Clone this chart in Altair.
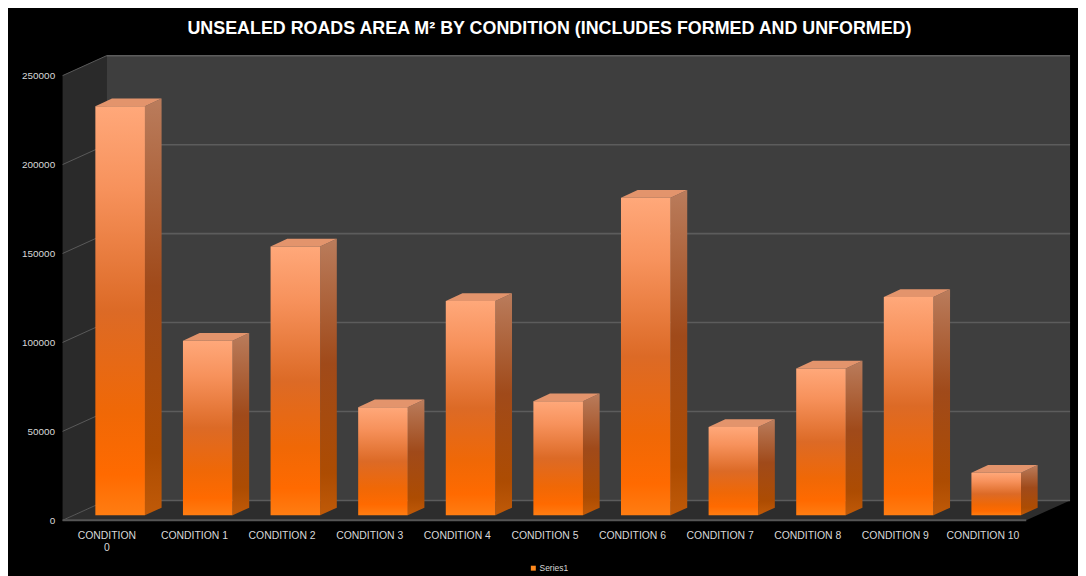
import json
import altair as alt
import pandas as pd

# ---------------- data ----------------
categories = ["CONDITION 0", "CONDITION 1", "CONDITION 2", "CONDITION 3", "CONDITION 4",
              "CONDITION 5", "CONDITION 6", "CONDITION 7", "CONDITION 8", "CONDITION 9",
              "CONDITION 10"]
areas = [230000, 98200, 151200, 60800, 120500, 64200, 178600, 49700, 82600, 122800, 24000]
y_ticks = [0, 50000, 100000, 150000, 200000, 250000]
series_name = "Series1"
title_text = "UNSEALED ROADS AREA M² BY CONDITION (INCLUDES FORMED AND UNFORMED)"

# ---------------- 3D box geometry (scale units) ----------------
n = len(categories)
YMAX = max(y_ticks)
DEPTH_X = 0.5        # wall depth along x
DEPTH_Y = 11160      # wall depth along y
BAR_OFFSET = 0.374   # front face left edge inside category slot
BAR_W = 0.566
BAR_DX = 0.19
BAR_DY = 4300
BAR_BASE = 2790

x_scale = alt.Scale(domain=[0, n + DEPTH_X], nice=False, zero=False)
y_scale = alt.Scale(domain=[-558, 261720], nice=False, zero=False)

FONT = "Liberation Sans"

# tick labels: first one wrapped onto two lines as in the reference
label_list = [c.split(" ") if i == 0 else c for i, c in enumerate(categories)]
label_expr = f"{json.dumps(label_list)}[round(datum.value - 0.5)]"

x_axis = alt.Axis(
    values=[i + 0.5 for i in range(n)], labelExpr=label_expr, title=None,
    grid=False, domain=False, ticks=False, labelPadding=9,
    labelFlush=False, labelOverlap=False, labelFont=FONT, labelFontSize=10.5,
    labelColor="#d9d9d9", labelLineHeight=12)
y_axis = alt.Axis(
    values=y_ticks, title=None, grid=False, domain=False, ticks=False,
    labelPadding=8, labelFont=FONT, labelFontSize=10, labelColor="#d9d9d9",
    format="d")

# bars
bars = pd.DataFrame({"cat": categories, "value": areas, "idx": list(range(n))})
bars["xl"] = bars["idx"] + BAR_OFFSET
bars["xr"] = bars["xl"] + BAR_W
bars["yb"] = BAR_BASE
bars["yt"] = BAR_BASE + bars["value"]
bars["series"] = series_name

side_rows, top_rows = [], []
for _, r in bars.iterrows():
    side_rows.append({"k": r.idx, "x": r.xr, "lo": r.yb, "hi": r.yt})
    side_rows.append({"k": r.idx, "x": r.xr + BAR_DX, "lo": r.yb + BAR_DY, "hi": r.yt + BAR_DY})
    t = r.yt
    top_rows.append({"k": r.idx, "x": r.xl, "lo": t, "hi": t})
    top_rows.append({"k": r.idx, "x": r.xl + BAR_DX, "lo": t, "hi": t + BAR_DY})
    top_rows.append({"k": r.idx, "x": r.xr, "lo": t, "hi": t + BAR_DY})
    top_rows.append({"k": r.idx, "x": r.xr + BAR_DX, "lo": t + BAR_DY, "hi": t + BAR_DY})
side_df = pd.DataFrame(side_rows)
top_df = pd.DataFrame(top_rows)

# walls
floor_df = pd.DataFrame({"x": [0, DEPTH_X, n, n + DEPTH_X],
                         "lo": [0, 0, 0, DEPTH_Y], "hi": [0, DEPTH_Y, DEPTH_Y, DEPTH_Y]})
left_df = pd.DataFrame({"x": [0, DEPTH_X], "lo": [0, DEPTH_Y], "hi": [YMAX, YMAX + DEPTH_Y]})
back_df = pd.DataFrame({"x": [DEPTH_X, n + DEPTH_X], "lo": [DEPTH_Y, DEPTH_Y],
                        "hi": [YMAX + DEPTH_Y, YMAX + DEPTH_Y]})
back_grid = pd.DataFrame({"x": [DEPTH_X] * len(y_ticks), "x2": [n + DEPTH_X] * len(y_ticks),
                          "y": [t + DEPTH_Y for t in y_ticks]})
left_grid = pd.DataFrame({"x": [0] * len(y_ticks), "x2": [DEPTH_X] * len(y_ticks),
                          "y": y_ticks, "y2": [t + DEPTH_Y for t in y_ticks]})
front_edge = pd.DataFrame({"x": [0], "x2": [n], "y": [0]})


def X(field):
    return alt.X(field, scale=x_scale, axis=x_axis)


def Y(field, **kw):
    return alt.Y(field, scale=y_scale, axis=y_axis, **kw)


def poly(df, color, detail=False):
    enc = dict(x=X("x:Q"), y=Y("lo:Q", stack=None), y2="hi:Q")
    if detail:
        enc["detail"] = "k:N"
    return alt.Chart(df).mark_area(orient="vertical", fill=color, interpolate="linear").encode(**enc)


floor = poly(floor_df, "#2d2d2d")
left_wall = poly(left_df, "#2a2a2a")
back_wall = poly(back_df, "#3e3e3e")

back_grid_l = alt.Chart(back_grid).mark_rule(color="#5c5c5c", strokeWidth=1.6).encode(
    x=X("x:Q"), x2="x2:Q", y=Y("y:Q"))
left_grid_l = alt.Chart(left_grid).mark_rule(color="#5a5a5a", strokeWidth=1).encode(
    x=X("x:Q"), x2="x2:Q", y=Y("y:Q"), y2="y2:Q")
front_edge_l = alt.Chart(front_edge).mark_rule(color="#555555", strokeWidth=2).encode(
    x=X("x:Q"), x2="x2:Q", y=Y("y:Q"))

side_grad = alt.Gradient(gradient="linear", x1=0, y1=0, x2=0, y2=1, stops=[
    alt.GradientStop(offset=0, color="#ba7c5c"),
    alt.GradientStop(offset=0.45, color="#a04a1a"),
    alt.GradientStop(offset=0.85, color="#ad4c02"),
    alt.GradientStop(offset=1, color="#c05a08"),
])
front_grad = alt.Gradient(gradient="linear", x1=0, y1=0, x2=0, y2=1, stops=[
    alt.GradientStop(offset=0, color="#ffa87a"),
    alt.GradientStop(offset=0.2, color="#f7925c"),
    alt.GradientStop(offset=0.5, color="#dc6a26"),
    alt.GradientStop(offset=0.75, color="#f06806"),
    alt.GradientStop(offset=0.9, color="#ff6a00"),
    alt.GradientStop(offset=1, color="#ff7d12"),
])

side_l = poly(side_df, side_grad, detail=True)
top_l = poly(top_df, "#e3946c", detail=True)

front_l = alt.Chart(bars).mark_rect(fill=front_grad).encode(
    x=X("xl:Q"), x2="xr:Q", y=Y("yb:Q"), y2="yt:Q")

legend_l = alt.Chart(bars).mark_square(opacity=0).encode(
    x=X("xl:Q"), y=Y("yb:Q"),
    color=alt.Color("series:N", scale=alt.Scale(range=["#ff8a1e"]), legend=alt.Legend(
        title=None, orient="none", legendX=470, legendY=513, symbolType="square",
        symbolSize=25, symbolOpacity=1, symbolStrokeWidth=0, labelFontSize=8.5,
        labelFont=FONT, labelColor="#d9d9d9", labelOffset=2, padding=0)),
)

chart = alt.layer(
    floor, left_wall, back_wall, back_grid_l, left_grid_l, front_edge_l,
    side_l, top_l, front_l, legend_l,
).properties(
    width=1015, height=470,
    autosize=alt.AutoSizeParams(type="none"),
    padding={"left": 55, "top": 45, "right": 8, "bottom": 53},
    background="#000000",
    title=alt.Title(title_text, anchor="middle", frame="group", dx=-17, offset=3,
                    baseline="alphabetic", font=FONT, fontSize=18, fontWeight="bold",
                    color="#ffffff"),
).configure_view(stroke=None)

chart.save("out.html", embed_options={"renderer": "svg", "actions": False})
